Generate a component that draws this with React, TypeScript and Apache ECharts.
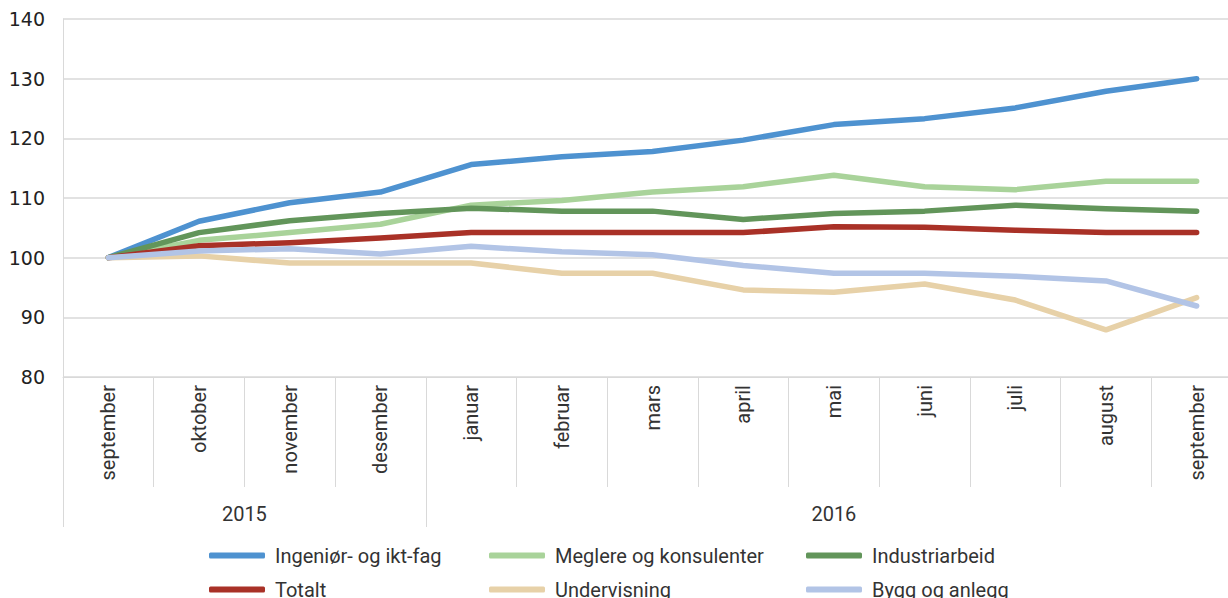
import React, { useEffect, useRef } from "react";
import * as echarts from "echarts";

const months = [
  "september", "oktober", "november", "desember", "januar", "februar",
  "mars", "april", "mai", "juni", "juli", "august", "september",
];
const years = ["2015", "2016"];
const yearLabelPos = [2, 8.5];
const yearTickPos = [0, 4, 13];

const seriesNames = [
  "Ingeniør- og ikt-fag",
  "Meglere og konsulenter",
  "Industriarbeid",
  "Totalt",
  "Undervisning",
  "Bygg og anlegg",
];
const ingenior = [100, 106.1, 109.2, 111.0, 115.6, 116.9, 117.8, 119.7, 122.3, 123.3, 125.1, 127.9, 130.0];
const meglere = [100, 102.9, 104.2, 105.6, 108.8, 109.6, 111.0, 111.9, 113.8, 111.9, 111.4, 112.8, 112.8];
const industri = [100, 104.2, 106.2, 107.4, 108.3, 107.8, 107.8, 106.4, 107.4, 107.8, 108.8, 108.2, 107.8];
const totalt = [100, 102.0, 102.5, 103.3, 104.2, 104.2, 104.2, 104.2, 105.2, 105.1, 104.6, 104.2, 104.2];
const undervisning = [100, 100.3, 99.1, 99.1, 99.1, 97.4, 97.4, 94.6, 94.2, 95.6, 92.9, 87.9, 93.3];
const bygg = [100, 101.1, 101.5, 100.6, 101.9, 101.0, 100.5, 98.7, 97.4, 97.4, 96.9, 96.1, 91.9];
const seriesData = [ingenior, meglere, industri, totalt, undervisning, bygg];
const colors = ["#4e92d0", "#a9d39a", "#62955a", "#a93127", "#e7d1a8", "#b2c4e6"];

const yTicks = { min: 80, max: 140, interval: 10 };

export default function App() {
  const ref = useRef<HTMLDivElement>(null);
  useEffect(() => {
    if (!ref.current) return;
    const chart = echarts.init(ref.current, undefined, { renderer: "svg" });
    const grey = "#d9d9d9";
    const font = "Roboto";
    const legendCol = (names: string[], left: number) => ({
      data: names,
      orient: "vertical",
      left,
      top: 539,
      height: 120,
      itemWidth: 56,
      itemHeight: 6,
      itemGap: 11,
      icon: "roundRect",
      textStyle: {
        fontFamily: font,
        fontSize: 20,
        color: "#333",
        lineHeight: 23,
        padding: [0, 0, 0, 5],
      },
    });
    chart.setOption({
      animation: false,
      color: colors,
      grid: {
        left: 63,
        right: -14,
        top: 19,
        bottom: 221,
        containLabel: false,
        outerBoundsMode: "none",
      },
      xAxis: [
        {
          type: "category",
          data: months,
          boundaryGap: true,
          axisLine: { show: true, lineStyle: { color: grey, width: 1 } },
          axisTick: { show: true, interval: 0, length: 110, lineStyle: { color: grey } },
          axisLabel: {
            interval: 0,
            rotate: 90,
            margin: 8,
            fontFamily: font,
            fontSize: 20,
            color: "#333",
          },
          splitLine: { show: false },
        },
        {
          type: "value",
          min: 0,
          max: 13,
          position: "bottom",
          axisLine: { show: false },
          splitLine: { show: false },
          axisTick: {
            show: true,
            customValues: yearTickPos,
            length: 150,
            lineStyle: { color: grey },
          },
          axisLabel: {
            show: true,
            customValues: yearLabelPos,
            formatter: (v: number) => years[yearLabelPos.indexOf(v)] ?? "",
            margin: 127,
            fontFamily: font,
            fontSize: 20,
            color: "#333",
          },
        },
      ],
      yAxis: {
        type: "value",
        min: yTicks.min,
        max: yTicks.max,
        interval: yTicks.interval,
        axisLine: { show: true, lineStyle: { color: grey } },
        axisTick: { show: false },
        splitLine: { show: true, lineStyle: { color: grey, width: 1.5 } },
        axisLabel: {
          margin: 18,
          fontFamily: "DejaVu Sans",
          fontSize: 19,
          color: "#222",
        },
      },
      legend: [
        legendCol([seriesNames[0], seriesNames[3]], 204),
        legendCol([seriesNames[1], seriesNames[4]], 484),
        legendCol([seriesNames[2], seriesNames[5]], 801),
      ],
      series: seriesNames.map((name, i) => ({
        name,
        type: "line",
        xAxisIndex: 0,
        data: seriesData[i],
        symbol: "none",
        smooth: false,
        lineStyle: { width: 5.5, color: colors[i], cap: "round", join: "round" },
        itemStyle: { color: colors[i] },
        z: 2 + i,
      })),
    });
    return () => chart.dispose();
  }, []);
  return (
    <div
      ref={ref}
      style={{ position: "fixed", left: 0, top: 0, width: 1228, height: 598, background: "#fff" }}
    />
  );
}
